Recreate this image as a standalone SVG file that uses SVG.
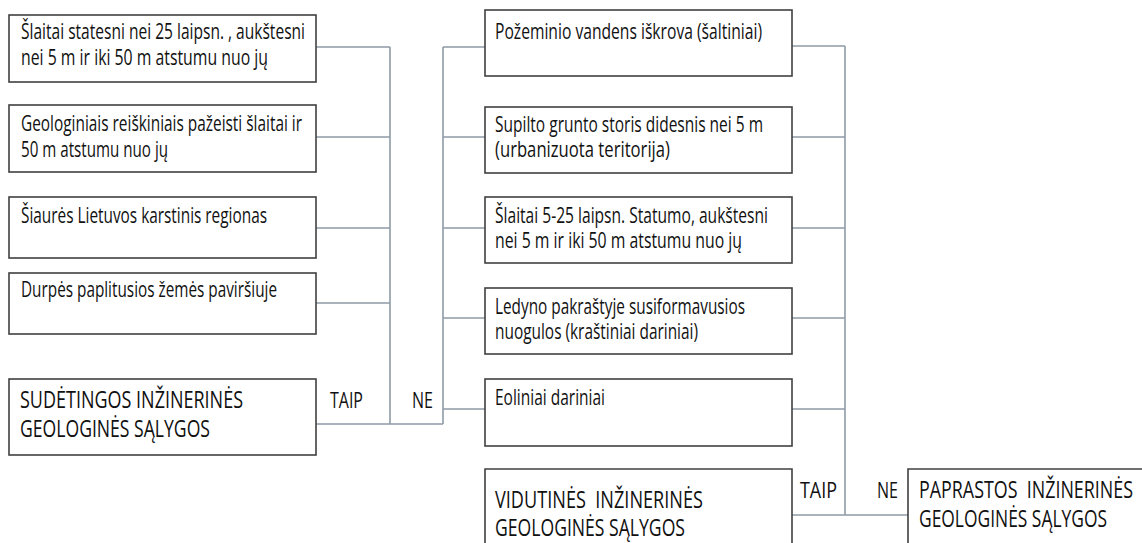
<svg xmlns="http://www.w3.org/2000/svg" width="1142" height="543" viewBox="0 0 1142 543">
<style>
.box{fill:#fff;stroke:#404040;stroke-width:1.6}
.con{fill:none;stroke:#8e9ba6;stroke-width:1.6}
text{font-family:"Open Sans","Noto Sans",sans-serif;font-size:21.5px;fill:#111}
.big{font-size:23.5px}
</style>
<rect width="1142" height="543" fill="#fff"/>
<g id="connectors">
<path class="con" d="M316 47H390M316 137H390M316 228H390M316 303H390M390 47V424M316 424H443M443 47V424M443 47H485M443 137H485M443 228H485M443 318H485M443 409H485"/>
<path class="con" d="M792 46H845M792 137H845M792 228H845M792 318H845M792 409H845M845 46V515M792 515H908"/>
</g>
<g id="n1"><rect class="box" x="9" y="15" width="307" height="67"/>
<text x="21" y="39" textLength="284" lengthAdjust="spacingAndGlyphs">Šlaitai statesni nei 25 laipsn. , aukštesni</text>
<text x="21" y="65" textLength="247" lengthAdjust="spacingAndGlyphs">nei 5 m ir iki 50 m atstumu nuo jų</text></g>
<g id="n2"><rect class="box" x="9" y="105" width="307" height="67"/>
<text x="21" y="131" textLength="281" lengthAdjust="spacingAndGlyphs">Geologiniais reiškiniais pažeisti šlaitai ir</text>
<text x="21" y="157" textLength="147" lengthAdjust="spacingAndGlyphs">50 m atstumu nuo jų</text></g>
<g id="n3"><rect class="box" x="9" y="197" width="307" height="61"/>
<text x="21" y="223" textLength="246" lengthAdjust="spacingAndGlyphs">Šiaurės Lietuvos karstinis regionas</text></g>
<g id="n4"><rect class="box" x="9" y="273" width="307" height="61"/>
<text x="21" y="297" textLength="256" lengthAdjust="spacingAndGlyphs">Durpės paplitusios žemės paviršiuje</text></g>
<g id="n5"><rect class="box" x="9" y="379" width="307" height="76"/>
<text class="big" x="20" y="408" textLength="223" lengthAdjust="spacingAndGlyphs">SUDĖTINGOS INŽINERINĖS</text>
<text class="big" x="20" y="437" textLength="190" lengthAdjust="spacingAndGlyphs">GEOLOGINĖS SĄLYGOS</text></g>
<g id="lbl1"><text x="330" y="408" textLength="33" lengthAdjust="spacingAndGlyphs">TAIP</text>
<text x="412" y="408" textLength="21" lengthAdjust="spacingAndGlyphs">NE</text></g>
<g id="m1"><rect class="box" x="485" y="10" width="307" height="66"/>
<text x="495" y="39" textLength="267" lengthAdjust="spacingAndGlyphs">Požeminio vandens iškrova (šaltiniai)</text></g>
<g id="m2"><rect class="box" x="485" y="107" width="307" height="66"/>
<text x="495" y="132" textLength="268" lengthAdjust="spacingAndGlyphs">Supilto grunto storis didesnis nei 5 m</text>
<text x="495" y="157" textLength="175" lengthAdjust="spacingAndGlyphs">(urbanizuota teritorija)</text></g>
<g id="m3"><rect class="box" x="485" y="197" width="307" height="66"/>
<text x="495" y="223" textLength="273" lengthAdjust="spacingAndGlyphs">Šlaitai 5-25 laipsn. Statumo, aukštesni</text>
<text x="495" y="248" textLength="247" lengthAdjust="spacingAndGlyphs">nei 5 m ir iki 50 m atstumu nuo jų</text></g>
<g id="m4"><rect class="box" x="485" y="288" width="307" height="66"/>
<text x="495" y="314" textLength="250" lengthAdjust="spacingAndGlyphs">Ledyno pakraštyje susiformavusios</text>
<text x="495" y="339" textLength="203" lengthAdjust="spacingAndGlyphs">nuogulos (kraštiniai dariniai)</text></g>
<g id="m5"><rect class="box" x="485" y="379" width="307" height="67"/>
<text x="495" y="405" textLength="110" lengthAdjust="spacingAndGlyphs">Eoliniai dariniai</text></g>
<g id="m6"><path class="box" d="M485 543V469H792V543"/>
<text class="big" x="495" y="508" textLength="208" lengthAdjust="spacingAndGlyphs" xml:space="preserve">VIDUTINĖS  INŽINERINĖS</text>
<text class="big" x="495" y="536" textLength="190" lengthAdjust="spacingAndGlyphs">GEOLOGINĖS SĄLYGOS</text></g>
<g id="lbl2"><text x="800" y="498" textLength="37" lengthAdjust="spacingAndGlyphs">TAIP</text>
<text x="877" y="498" textLength="21" lengthAdjust="spacingAndGlyphs">NE</text></g>
<g id="r1"><path class="box" d="M908 543V469H1142"/>
<text class="big" x="919" y="498" textLength="214" lengthAdjust="spacingAndGlyphs" xml:space="preserve">PAPRASTOS  INŽINERINĖS</text>
<text class="big" x="919" y="527" textLength="188" lengthAdjust="spacingAndGlyphs">GEOLOGINĖS SĄLYGOS</text></g>
</svg>
